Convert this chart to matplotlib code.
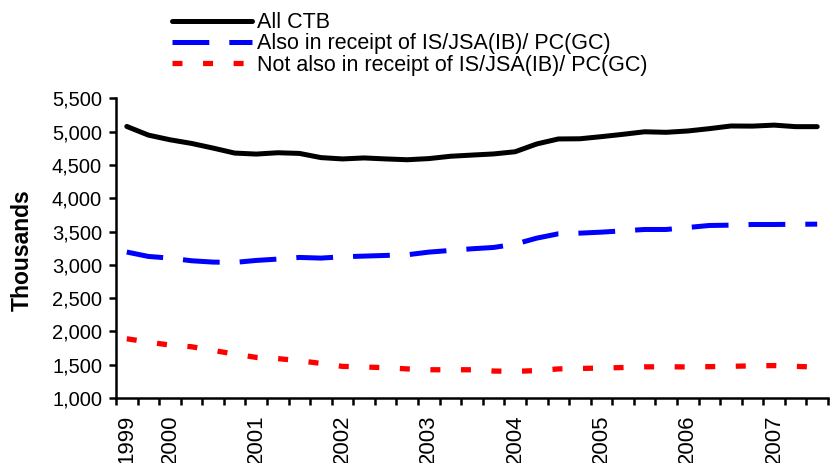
import numpy as np
import matplotlib
matplotlib.use("Agg")
import matplotlib.pyplot as plt
from matplotlib.ticker import StrMethodFormatter

plt.rcParams['font.family'] = ['Liberation Sans', 'DejaVu Sans']
plt.rcParams['lines.scale_dashes'] = False

# quarterly caseload, thousands (33 quarters)
all_ctb = [5080, 4950, 4880, 4825, 4755, 4680, 4665, 4685, 4675, 4612, 4592,
           4607, 4592, 4580, 4597, 4632, 4650, 4667, 4700, 4817, 4892, 4895,
           4927, 4962, 5000, 4992, 5012, 5047, 5087, 5085, 5100, 5077, 5077]
also_is = [3193, 3127, 3102, 3062, 3042, 3037, 3067, 3087, 3112, 3102, 3122,
           3132, 3142, 3152, 3192, 3217, 3242, 3262, 3312, 3402, 3467, 3477,
           3492, 3512, 3532, 3532, 3562, 3592, 3597, 3607, 3607, 3610, 3612]
not_is = [1890, 1840, 1795, 1770, 1715, 1660, 1610, 1592, 1560, 1520, 1475,
          1466, 1455, 1437, 1424, 1425, 1424, 1405, 1400, 1412, 1437, 1444,
          1450, 1458, 1468, 1469, 1467, 1471, 1476, 1483, 1487, 1475, 1465]

year_pos = [0, 2, 6, 10, 14, 18, 22, 26, 30]
year_labels = ['1999', '2000', '2001', '2002', '2003', '2004', '2005', '2006', '2007']

x = np.arange(len(all_ctb))

fig = plt.figure(figsize=(8.37, 4.63), dpi=100)
ax = fig.add_axes([116 / 837, 1 - 398 / 463, 712 / 837, (398 - 98.5) / 463])

ax.plot(x, all_ctb, color='black', lw=3.6, solid_capstyle='round', label='All CTB')
ax.plot(x, also_is, color='#0000ff', lw=3.6, dashes=(26.5, 14.4),
        label='Also in receipt of IS/JSA(IB)/ PC(GC)')
ax.plot(x, not_is, color='#ff0000', lw=3.8, dashes=(7.2, 14.8),
        label='Not also in receipt of IS/JSA(IB)/ PC(GC)')

ax.set_xlim(-0.5, len(x) - 0.5)
ax.set_ylim(1000, 5500)
ax.set_yticks(np.arange(1000, 5501, 500))
ax.yaxis.set_major_formatter(StrMethodFormatter('{x:,.0f}'))

ax.set_xticks(np.arange(-0.5, len(x), 1))
ax.set_xticklabels([])
ax.set_xticks(year_pos, minor=True)
ax.set_xticklabels(year_labels, minor=True, rotation=90, fontsize=16, va='top')
ax.tick_params(axis='x', which='major', direction='out', length=5, width=1.8)
ax.tick_params(axis='x', which='minor', length=0, pad=12)
ax.tick_params(axis='y', direction='out', length=5, width=1.8, labelsize=14.5, pad=5)

for s in ['top', 'right']:
    ax.spines[s].set_visible(False)
for s in ['left', 'bottom']:
    ax.spines[s].set_linewidth(1.8)

fig.text(22 / 837, 1 - 250 / 463, 'Thousands', rotation=90, fontsize=16.5,
         fontweight='bold', ha='center', va='center')

fig.legend(loc='center left', bbox_to_anchor=(172 / 837, 1 - 44 / 463),
           frameon=False, fontsize=15.5, handlelength=3.7, handletextpad=0.25,
           labelspacing=0.02, borderpad=0, borderaxespad=0)

fig.savefig('out.png', dpi=100)
